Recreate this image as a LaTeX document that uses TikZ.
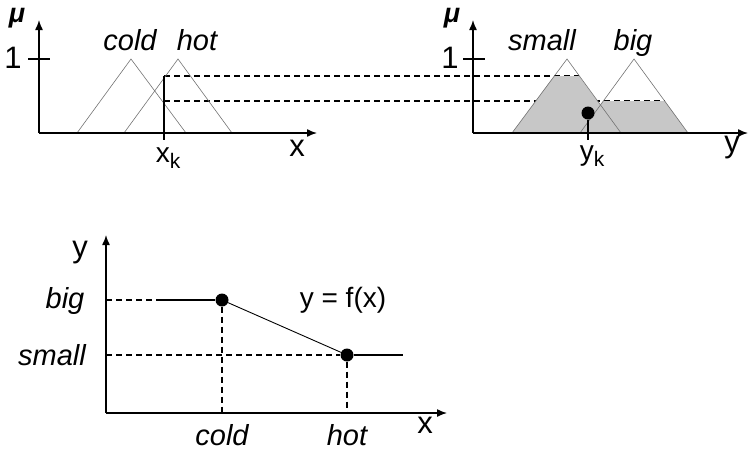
\documentclass[tikz,border=0pt]{standalone}
\usepackage{fontspec}
\setmainfont{Liberation Sans}
\usetikzlibrary{arrows.meta}

\begin{document}
\begin{tikzpicture}[x=1pt, y=-1pt,
  axis/.style={draw, line width=1.4pt, -{Latex[length=10pt, width=8pt]}},
  mf/.style={draw=black!55, line width=0.6pt},
  guide/.style={draw, line width=1.2pt, dash pattern=on 6pt off 4pt},
  curve/.style={draw, line width=1.2pt},
  cut/.style={fill=black!22},
  lbl/.style={inner sep=0pt, anchor=base, font=\fontsize{28}{32}\selectfont},
  term/.style={lbl, font=\fontsize{29}{32}\selectfont\itshape},
  var/.style={lbl, font=\fontsize{31}{34}\selectfont},
  musym/.style={lbl, font=\fontsize{27}{30}\selectfont\bfseries\itshape},
  dot/.style={circle, fill, inner sep=0pt, minimum size=13pt}
]
\useasboundingbox (0,0) rectangle (750,451);

% input membership functions
\coordinate (O1) at (39,133);
\coordinate (mu1 tip) at (39,20);
\coordinate (x tip) at (317,133);
\coordinate (t1a) at (28,59);
\coordinate (t1b) at (50,59);
\coordinate (c1) at (77,133);
\coordinate (c2) at (131,59);
\coordinate (c3) at (186,133);
\coordinate (h1) at (124,133);
\coordinate (h2) at (178,59);
\coordinate (h3) at (232,133);
\coordinate (xk top) at (164,76);
\coordinate (xk mid) at (164,101);
\coordinate (xk bot) at (164,140);

% output membership functions
\coordinate (O2) at (473,133);
\coordinate (mu2 tip) at (473,20);
\coordinate (y tip) at (748,133);
\coordinate (t2a) at (463,59);
\coordinate (t2b) at (485,59);
\coordinate (s1) at (512,133);
\coordinate (s2) at (567,59);
\coordinate (s3) at (621,133);
\coordinate (sl) at (554,76);
\coordinate (sr) at (579,76);
\coordinate (b1) at (580,133);
\coordinate (b2) at (634,59);
\coordinate (b3) at (688,133);
\coordinate (bl) at (603,101);
\coordinate (br) at (665,101);
\coordinate (yk bot) at (588,140);

% characteristic
\coordinate (O3) at (106,413);
\coordinate (y3 tip) at (106,235);
\coordinate (x3 tip) at (447,413);
\coordinate (big lvl) at (106,300);
\coordinate (big start) at (160,300);
\coordinate (small lvl) at (106,355);
\coordinate (small end) at (403,355);
\coordinate (cold foot) at (222,413);
\coordinate (hot foot) at (347,413);

% cut levels carried over
\path[guide] (xk top) -- (sr);
\path[guide] (xk mid) -- (br);
\path[cut] (s1) -- (sl) -- (sr) -- (s3) -- cycle;
\path[cut] (b1) -- (bl) -- (br) -- (b3) -- cycle;

\path[mf] (c1) -- (c2) -- (c3);
\path[mf] (h1) -- (h2) -- (h3);
\path[mf] (s1) -- (s2) -- (s3);
\path[mf] (b1) -- (b2) -- (b3);

\path[axis] (O1) -- (mu1 tip);
\path[axis] (O1) -- (x tip);
\draw[line width=1.4pt] (t1a) -- (t1b);
\draw[line width=1.2pt] (xk top) -- (xk bot);

\path[axis] (O2) -- (mu2 tip);
\path[axis] (O2) -- (y tip);
\draw[line width=1.4pt] (t2a) -- (t2b);

\node[dot] (yk) at (588,113) {};
\draw[line width=1.2pt] (yk) -- (yk bot);

\node[musym] (mu1) at (17,22) {μ};
\node[var] (one1) at (13,68) {1};
\node[term] (cold1) at (130,50) {cold};
\node[term] (hot1) at (197,50) {hot};
\node[var] (x1) at (297,156) {x};
\node[lbl] (xk) at (168,162) {x\raisebox{-6pt}{\fontsize{21}{24}\selectfont k}};

\node[musym] (mu2) at (452,22) {μ};
\node[var] (one2) at (450,68) {1};
\node[term] (small1) at (542,50) {small};
\node[term] (big1) at (633,50) {big};
\node[var] (y1) at (732,152) {y};
\node[lbl] (yklbl) at (592,160) {y\raisebox{-6pt}{\fontsize{21}{24}\selectfont k}};

% y = f(x)
\path[axis] (O3) -- (y3 tip);
\path[axis] (O3) -- (x3 tip);
\node[dot] (cold pt) at (222,300) {};
\node[dot] (hot pt) at (347,355) {};
\path[guide] (big lvl) -- (big start);
\path[guide] (small lvl) -- (hot pt);
\path[guide] (cold pt) -- (cold foot);
\path[guide] (hot pt) -- (hot foot);
\path[curve] (big start) -- (cold pt);
\draw[line width=0.9pt] (cold pt) -- (hot pt);
\path[curve] (hot pt) -- (small end);

\node[var] (y3) at (80,257) {y};
\node[var] (x3) at (425,433) {x};
\node[term] (big2) at (65,308) {big};
\node[term] (small2) at (52,365) {small};
\node[term] (cold2) at (222,445) {cold};
\node[term] (hot2) at (347,445) {hot};
\node[lbl] (fx) at (343,307) {y = f(x)};
\end{tikzpicture}
\end{document}
